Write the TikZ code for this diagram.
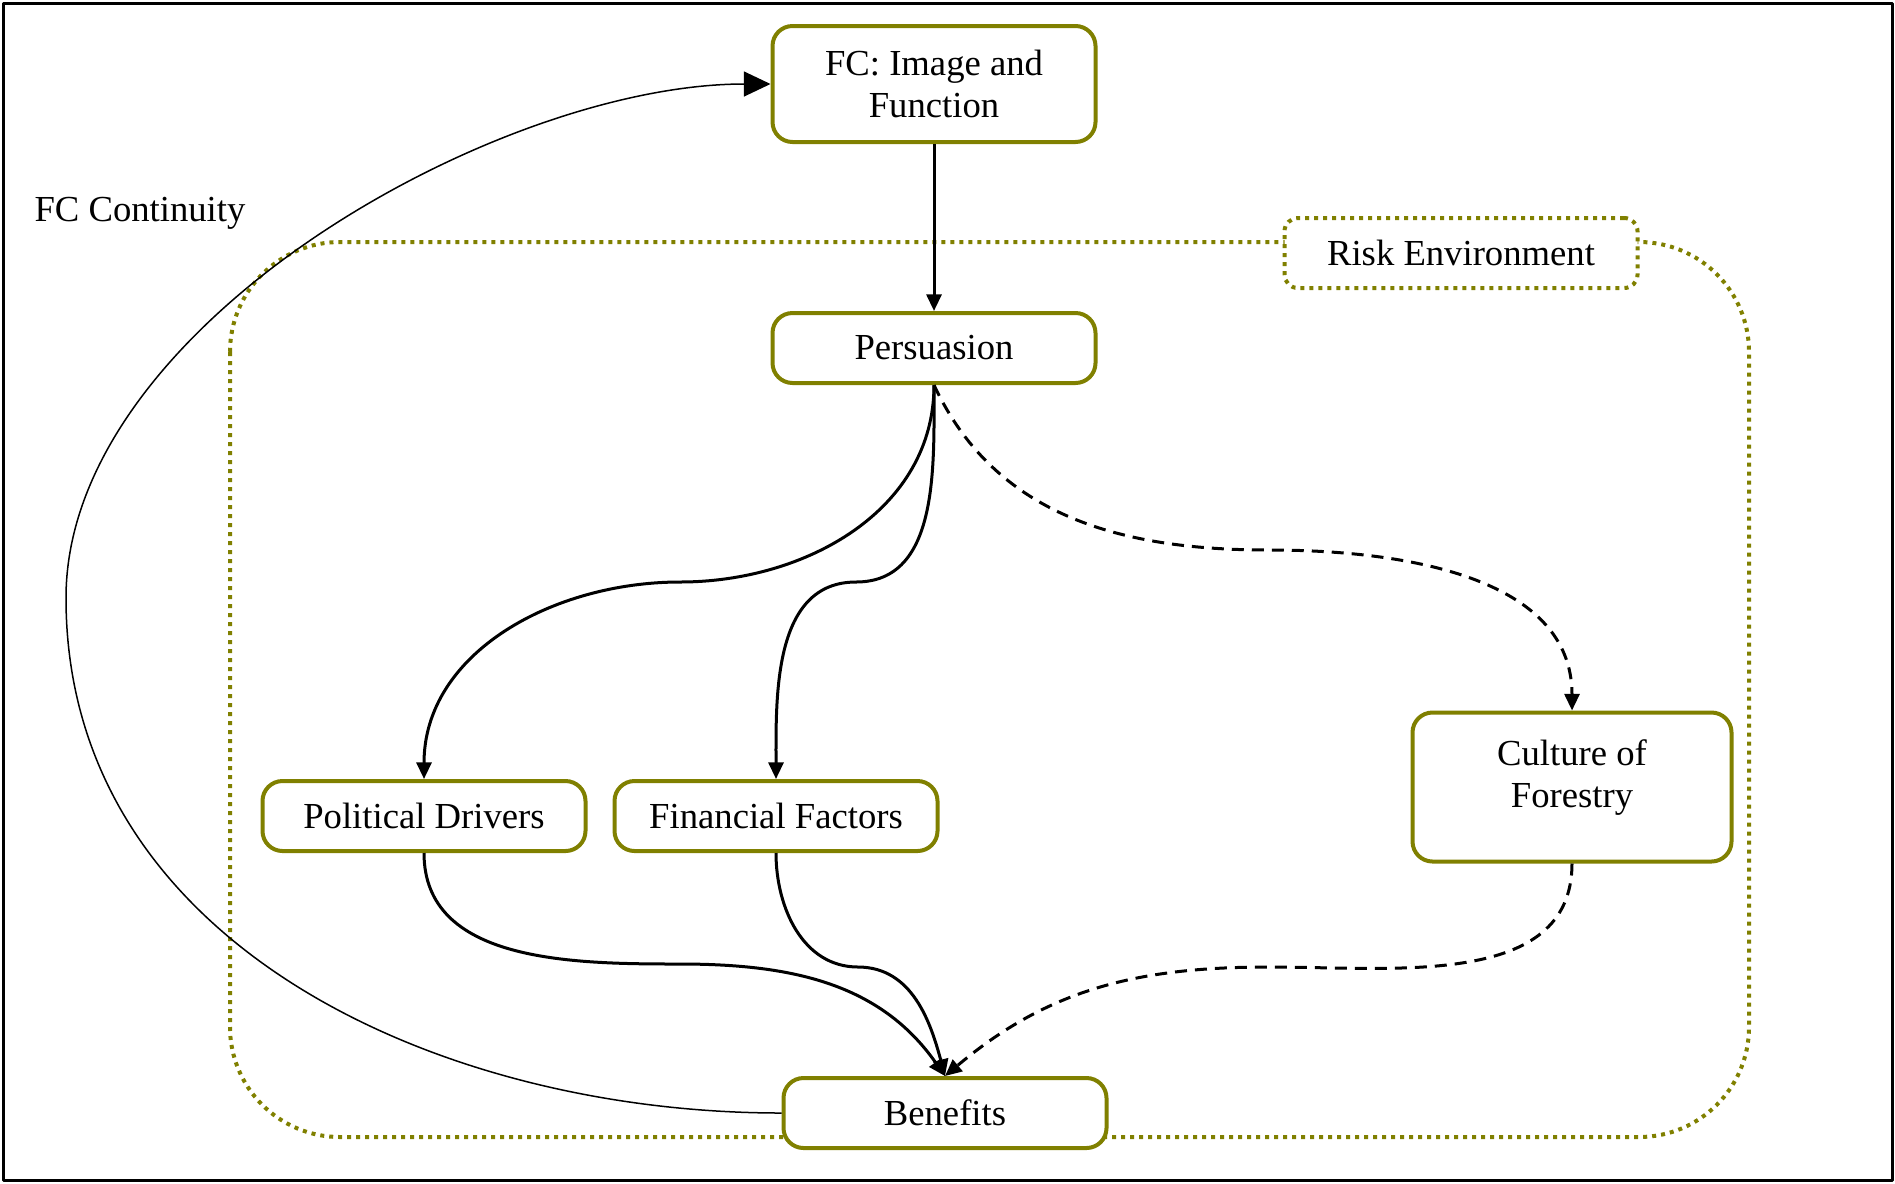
\documentclass[tikz,border=0pt]{standalone}
\usepackage{fontspec}
\setmainfont{Liberation Serif}
\usepackage{tikz}
\usetikzlibrary{arrows.meta}
\definecolor{olivebox}{RGB}{128,128,0}

\begin{document}
\begin{tikzpicture}[x=0.3pt, y=-0.3pt, line join=round, font=\fontsize{11}{12.6}\selectfont,
	>={Triangle[length=5pt, width=4.5pt]},
	keybox/.style={draw=olivebox, line width=1.2pt, rounded corners=6pt, fill=white, align=center,
		minimum width=96.9pt, minimum height=21pt, inner sep=2pt},
	flow/.style={->, line width=0.9pt},
	dashflow/.style={flow, dash pattern=on 3.6pt off 2.4pt}]
	\useasboundingbox (0,0) rectangle (1895,1183);
	% Outer frame
	\draw[line width=0.9pt] (3,3) rectangle (1892,1180);
	% Risk environment frame
	\draw[olivebox, line width=1.2pt, dash pattern=on 1.2pt off 1.5pt, rounded corners=33pt] (230,242) rectangle (1749,1137);
	% Boxes
	\node[keybox, minimum height=34.8pt] (fcimage) at (934,84) {FC: Image and\\Function};
	\node[keybox] (persuasion) at (934,348) {Persuasion};
	\node[keybox] (political) at (424,816) {Political Drivers};
	\node[keybox] (financial) at (776,816) {Financial Factors};
	\node[keybox, minimum width=95.7pt, minimum height=44.7pt, text depth=8pt] (culture) at (1572,787) {Culture of\\Forestry};
	\node[keybox] (benefits) at (945,1113) {Benefits};
	\node[keybox, minimum width=105.9pt, rounded corners=4pt, dash pattern=on 1.2pt off 1.5pt] (riskenv) at (1461,253) {Risk Environment};
	\node (continuity) at (140,213) {FC Continuity};
	% Bends of the connectors
	\coordinate (viapol) at (680,582);
	\coordinate (viafin) at (856,582);
	\coordinate (viacul) at (1269,550);
	\coordinate (backpol) at (680,964);
	\coordinate (backfin) at (858,967);
	\coordinate (backcul) at (1269,967);
	\coordinate (loopleft) at (66,598);
	% Connectors
	\draw[flow] (fcimage) -- (persuasion);
	\draw[flow] (persuasion.south) to[out=-90, in=0] (viapol) to[out=180, in=90] (political.north);
	\draw[flow] (persuasion.south) to[out=-90, in=0] (viafin) to[out=180, in=90] (financial.north);
	\draw[dashflow] (persuasion.south) to[out=-65, in=180] (viacul) to[out=0, in=90] (culture.north);
	\draw[flow] (political.south) to[out=-90, in=180] (backpol) to[out=0, in=125] (benefits.north);
	\draw[flow] (financial.south) to[out=-90, in=180] (backfin) to[out=0, in=105] (benefits.north);
	\draw[dashflow] (culture.south) to[out=-90, in=0] (backcul) to[out=180, in=40] (benefits.north);
	% FC continuity loop
	\draw[line width=0.45pt, -{Triangle[length=8pt, width=7.5pt]}] (benefits.west) to[out=180, in=-90] (loopleft)
		to[out=90, in=180, looseness=0.8] (fcimage.west);
\end{tikzpicture}
\end{document}
